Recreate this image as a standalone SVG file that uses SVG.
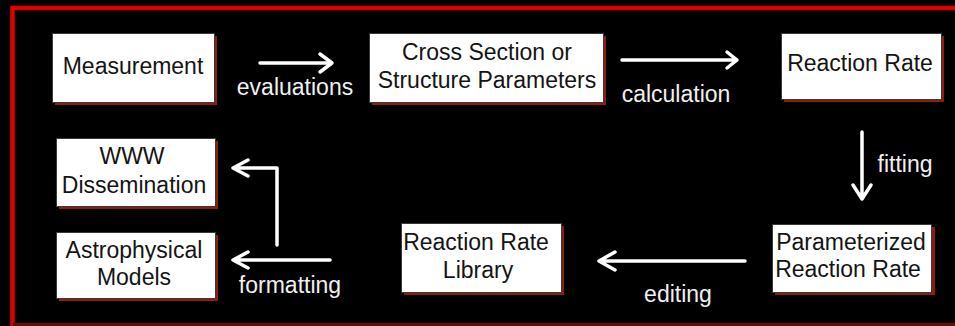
<svg xmlns="http://www.w3.org/2000/svg" width="955" height="326" viewBox="0 0 955 326">
<style>
.box{fill:#ffffff;stroke:#3a3a3a;stroke-width:1}
.sh{fill:#8e1c12}
.t{font-family:"Liberation Sans",Arial,sans-serif;font-size:23px;fill:#141414;text-anchor:middle}
.lb{font-family:"Liberation Sans",Arial,sans-serif;font-size:23px;fill:#f0f0f0;text-anchor:middle}
.ln{fill:none;stroke:#ffffff;stroke-width:3.5;stroke-linecap:round;stroke-linejoin:round}
</style>
<rect x="0" y="0" width="955" height="326" fill="#000000"/>
<path d="M12.5 326 V8 H955" fill="none" stroke="#e00000" stroke-width="4.5"/>
<path d="M12.5 324.5 H955" fill="none" stroke="#6a0a06" stroke-width="3"/>
<g id="measurement">
<rect class="sh" x="55" y="36" width="162" height="69"/>
<rect class="box" x="52.5" y="33.5" width="162" height="69"/>
<text class="t" x="133" y="74">Measurement</text>
</g>
<g id="cross-section">
<rect class="sh" x="372" y="36" width="234" height="69"/>
<rect class="box" x="369.5" y="33.5" width="234" height="69"/>
<text class="t" x="487" y="60">Cross Section or</text>
<text class="t" x="487" y="88">Structure Parameters</text>
</g>
<g id="reaction-rate">
<rect class="sh" x="784" y="36" width="160" height="66"/>
<rect class="box" x="781.5" y="33.5" width="160" height="66"/>
<text class="t" x="860" y="71">Reaction Rate</text>
</g>
<g id="www">
<rect class="sh" x="59" y="141" width="159" height="68"/>
<rect class="box" x="56.5" y="138.5" width="159" height="68"/>
<text class="t" x="132" y="164">WWW</text>
<text class="t" x="134" y="193">Dissemination</text>
</g>
<g id="astro">
<rect class="sh" x="59" y="235" width="159" height="66"/>
<rect class="box" x="56.5" y="232.5" width="159" height="66"/>
<text class="t" x="134" y="258">Astrophysical</text>
<text class="t" x="134" y="285">Models</text>
</g>
<g id="library">
<rect class="sh" x="404" y="226" width="160" height="69"/>
<rect class="box" x="401.5" y="223.5" width="160" height="69"/>
<text class="t" x="476" y="250">Reaction Rate</text>
<text class="t" x="478" y="278">Library</text>
</g>
<g id="parameterized">
<rect class="sh" x="775" y="227" width="160" height="68"/>
<rect class="box" x="772.5" y="224.5" width="159" height="68"/>
<text class="t" x="851" y="250">Parameterized</text>
<text class="t" x="848" y="277">Reaction Rate</text>
</g>
<g id="connectors">
<path class="ln" d="M260 63 H332 M320 54 L332 63 L320 72"/>
<text class="lb" x="295" y="95">evaluations</text>
<path class="ln" d="M622 60 H737 M727 52 L737 60 L727 68"/>
<text class="lb" x="676" y="102">calculation</text>
<path class="ln" d="M862 132 V199 M853 185 L862 199 L871 185"/>
<text class="lb" x="905" y="172">fitting</text>
<path class="ln" d="M745 261 H599 M615 252 L599 261 L615 270"/>
<text class="lb" x="678" y="302">editing</text>
<path class="ln" d="M330 260 H233 M248 252 L233 260 L248 268"/>
<path class="ln" d="M277 245 V168 H233 M248 160 L233 168 L248 176"/>
<text class="lb" x="290" y="293">formatting</text>
</g>
</svg>
